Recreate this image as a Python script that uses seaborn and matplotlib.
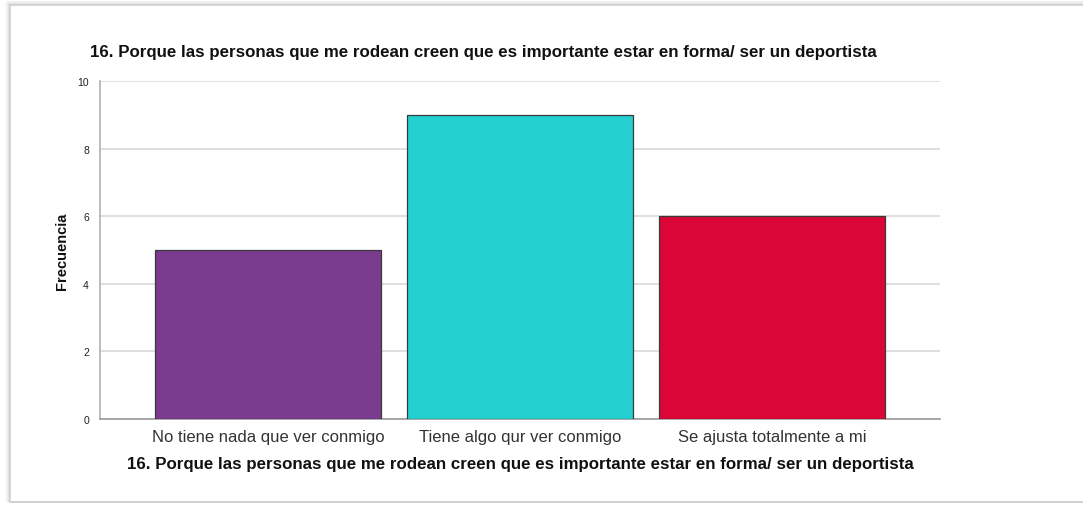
import matplotlib
matplotlib.use("Agg")
import matplotlib.pyplot as plt
from matplotlib.patches import Rectangle
import seaborn as sns
import pandas as pd

categories = ["No tiene nada que ver conmigo", "Tiene algo qur ver conmigo", "Se ajusta totalmente a mi"]
frecuencia = [5, 9, 6]
colors = ["#7B3B8F", "#23D0CF", "#DB0636"]
yticks = [0, 2, 4, 6, 8, 10]
title = "16. Porque las personas que me rodean creen que es importante estar en forma/ ser un deportista"

sns.set_theme(style="white")
plt.rcParams["font.family"] = ["Liberation Sans", "DejaVu Sans"]

df = pd.DataFrame({"cat": categories, "freq": frecuencia})

fig = plt.figure(figsize=(10.83, 5.06), dpi=100)
fig.patch.set_facecolor("white")

# soft frame around the chart
for off, col in [(3, "#eeeeee"), (1.5, "#dddddd"), (0, "#cfcfcf")]:
    fig.patches.append(Rectangle((10 / 1083 - off / 1083, 3 / 506),
                                 1.2, (505 - 8) / 506 + off / 506,
                                 transform=fig.transFigure, fill=False,
                                 edgecolor=col, linewidth=1.2, zorder=0))

ax = fig.add_axes([100 / 1083, 1 - 420 / 506, 840 / 1083, 338 / 506])
sns.barplot(data=df, x="cat", y="freq", hue="cat", palette=colors, legend=False,
            saturation=1, width=0.9, edgecolor="#3a3a3a", linewidth=0.9,
            ax=ax, zorder=3)

ax.set_xlim(-0.667, 2.667)
ax.set_ylim(0, 10)
ax.set_yticks(yticks)
ax.set_yticklabels([str(t) for t in yticks], fontsize=7.5, color="#222222")
ax.yaxis.grid(True, color="#d9d9d9", linewidth=1.2, zorder=0)
ax.set_axisbelow(True)
ax.tick_params(axis="x", labelsize=12, colors="#333333", length=0, pad=7)
ax.tick_params(axis="y", length=0, pad=8)

for side in ["top", "right"]:
    ax.spines[side].set_visible(False)
ax.spines["left"].set_color("#b0b0b0")
ax.spines["bottom"].set_color("#9a9a9a")
ax.spines["left"].set_linewidth(1.2)
ax.spines["bottom"].set_linewidth(1.2)

ax.set_ylabel("Frecuencia", fontsize=10.5, fontweight="bold", color="#111111", labelpad=6)
ax.set_xlabel(title, fontsize=12.2, fontweight="bold", color="#111111", labelpad=9)

fig.text(90 / 1083, 1 - 52 / 506, title, fontsize=12.2, fontweight="bold",
         color="#111111", ha="left", va="center")

fig.savefig("out.png", dpi=100)
